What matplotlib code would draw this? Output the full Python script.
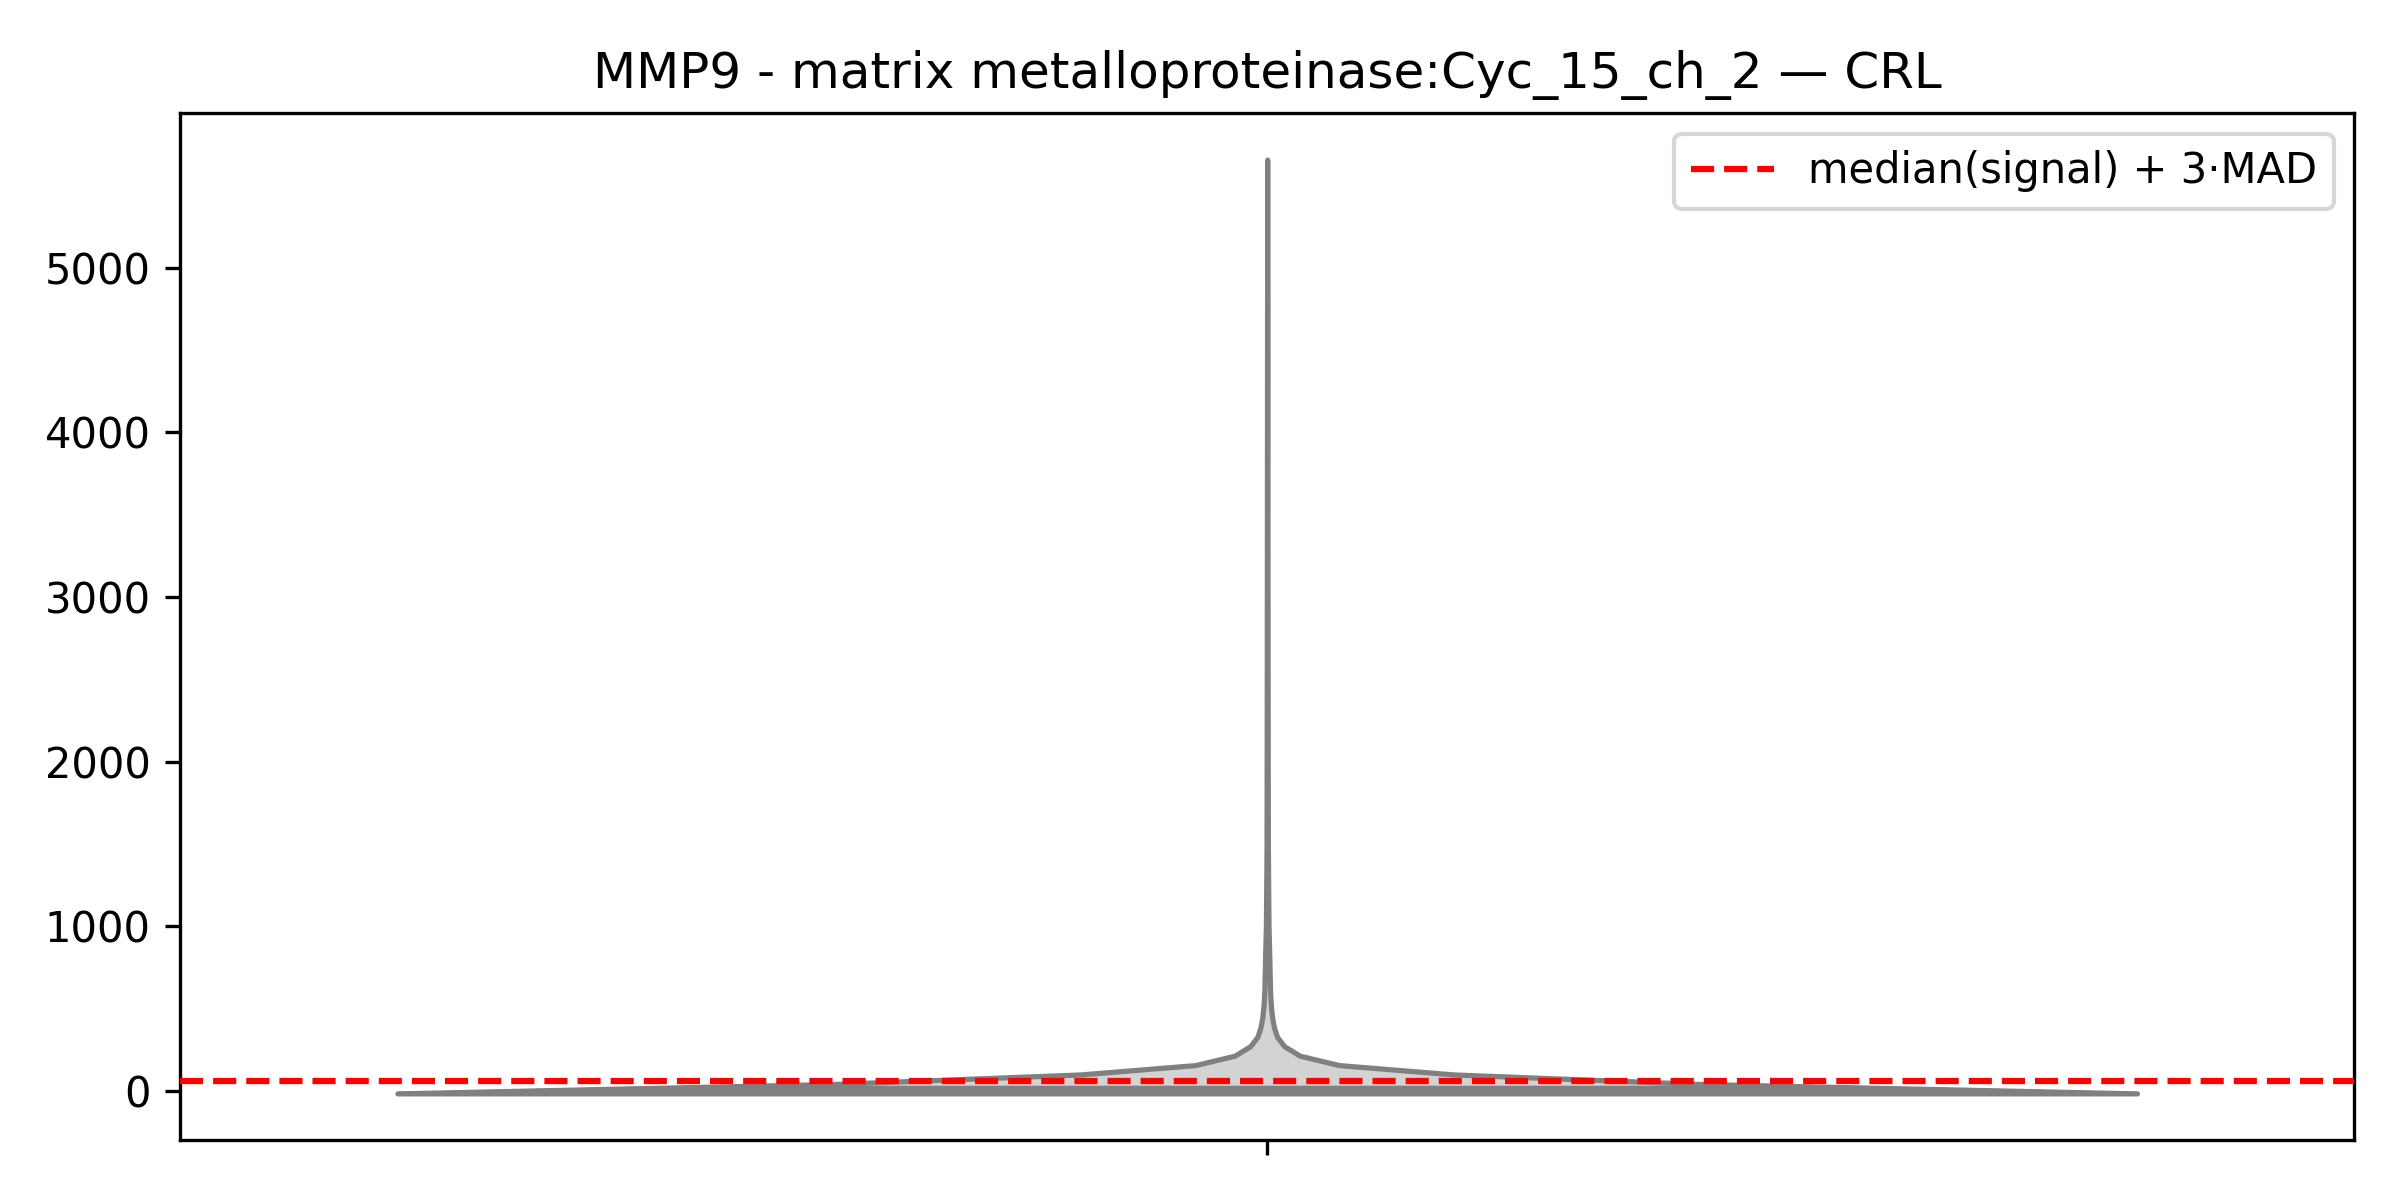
import numpy as np
import matplotlib
matplotlib.use("Agg")
import matplotlib.pyplot as plt
from matplotlib.collections import LineCollection
from matplotlib.lines import Line2D

title = "MMP9 - matrix metalloproteinase:Cyc_15_ch_2 \u2014 CRL"
threshold_label = "median(signal) + 3\u00b7MAD"

# violin outline: signal value and half width of the density
outline_y = [-15, 42, 100, 157, 214, 272, 329, 386, 443, 501, 558, 615, 730,
             850, 1000, 1500, 2500, 4000, 5657]
outline_hw = [0.400, 0.200, 0.086, 0.033, 0.015, 0.0078, 0.0045, 0.0031, 0.0023,
              0.0018, 0.0015, 0.0013, 0.0011, 0.0009, 0.0006, 0.0003, 0.0002,
              0.0001, 0.0]

# observations drawn as sticks (the dense band near zero)
stick_values = [-15, -14, -13, -12, -11, -10, -9, -8, -7, -6, -5, -4, -3, -2, -1,
                0, 1, 2, 3, 4, 5, 6, 7, 8, 10, 12, 15, 18, 22, 26]

threshold = 62

fig = plt.figure(figsize=(8, 4), dpi=300)
ax = fig.add_subplot(111)
fig.subplots_adjust(left=0.075, right=0.981, top=0.906, bottom=0.05)

y = np.array(outline_y, dtype=float)
hw = np.array(outline_hw)
ax.fill_betweenx(y, -hw, hw, facecolor="lightgray", edgecolor="gray",
                 linewidth=1.25, zorder=2)

sv = np.array(stick_values, dtype=float)
sw = np.interp(sv, y, hw)
segs = [[(-w, v), (w, v)] for v, w in zip(sv, sw)]
ax.add_collection(LineCollection(segs, colors="gray", linewidths=0.8, zorder=3))

ax.axhline(threshold, color="red", linestyle="--", linewidth=1.5, zorder=4)

ax.set_xlim(-0.5, 0.5)
ax.set_ylim(-298, 5941)
ax.set_xticks([0])
ax.set_xticklabels([""])
ax.set_title(title, fontsize=12)

handle = Line2D([], [], color="red", linestyle="--", linewidth=1.5)
ax.legend([handle], [threshold_label], loc="upper right", fontsize=10)

plt.savefig("out.png", dpi=300)
